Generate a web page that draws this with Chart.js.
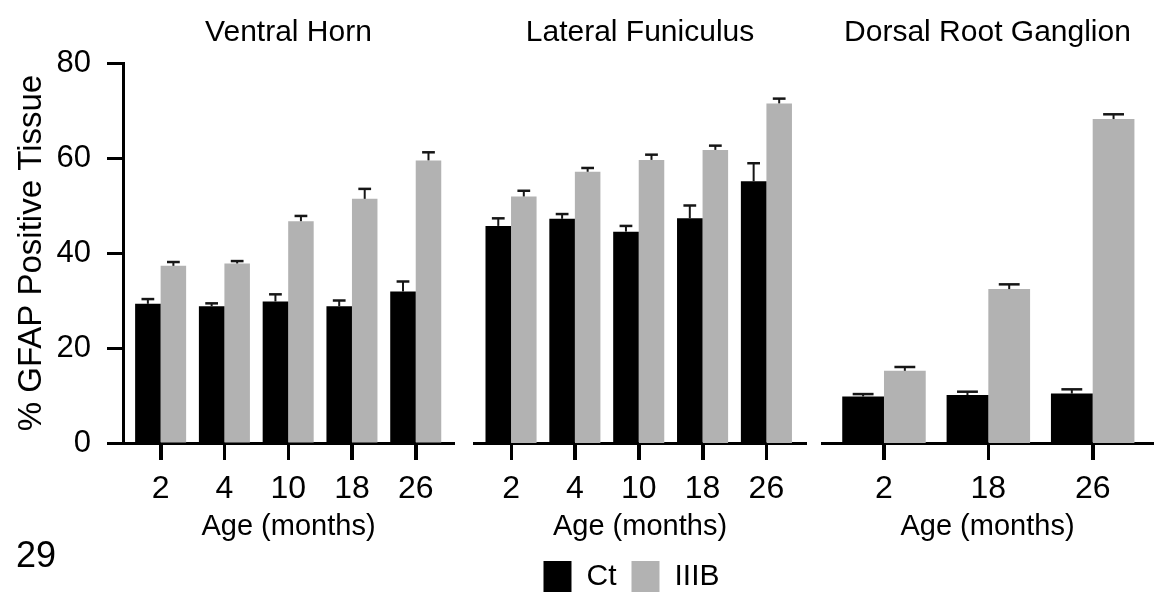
<!DOCTYPE html>
<html>
<head>
<meta charset="utf-8">
<script src="https://cdn.jsdelivr.net/npm/chart.js@4/dist/chart.umd.min.js"></script>
<style>
  html, body { margin: 0; padding: 0; background: #fff; overflow: hidden; }
  #wrap { position: relative; width: 1154px; height: 595px; overflow: hidden; background: #fff; }
  #wrap canvas { position: absolute; top: 0; }
  #fig { position: absolute; left: 16px; top: 537px; font: 36px 'Liberation Sans', Arial, sans-serif; line-height: 36px; color: #000; }
</style>
</head>
<body>
<div id="wrap">
  <canvas id="vh" width="460" height="595" style="left:0px"></canvas>
  <canvas id="lf" width="355" height="602" style="left:457px"></canvas>
  <canvas id="drg" width="339" height="595" style="left:815px"></canvas>
  <div id="fig">29</div>
</div>
<script>
// Age groups (months) per tissue
const vhAges  = ['2', '4', '10', '18', '26'];
const lfAges  = ['2', '4', '10', '18', '26'];
const drgAges = ['2', '18', '26'];

// % GFAP positive tissue, mean and SEM
const vhCt      = [29.3, 28.8, 29.8, 28.8, 31.9];
const vhCtSem   = [1.0, 0.6, 1.5, 1.2, 2.1];
const vhIIIB    = [37.3, 37.8, 46.7, 51.4, 59.5];
const vhIIIBSem = [0.8, 0.5, 1.1, 2.1, 1.7];

const lfCt      = [45.7, 47.2, 44.5, 47.3, 55.1];
const lfCtSem   = [1.6, 1.0, 1.2, 2.7, 3.8];
const lfIIIB    = [51.9, 57.1, 59.6, 61.7, 71.5];
const lfIIIBSem = [1.2, 0.8, 1.1, 0.9, 1.0];

const drgCt      = [9.8, 10.1, 10.4];
const drgCtSem   = [0.5, 0.7, 0.9];
const drgIIIB    = [15.2, 32.4, 68.2];
const drgIIIBSem = [0.8, 1.0, 1.0];

const yTickValues = [0, 20, 40, 60, 80];

const FONT = "'Liberation Sans', Arial, sans-serif";
const BLACK = '#000000';
const GREY = '#b2b2b2';

Chart.defaults.font.family = FONT;
Chart.defaults.color = '#000';

// Upper SEM whiskers on top of each bar
const semWhiskers = {
  id: 'semWhiskers',
  afterDatasetsDraw(chart) {
    const ctx = chart.ctx;
    const yScale = chart.scales.y;
    ctx.save();
    ctx.strokeStyle = '#161616';
    chart.data.datasets.forEach((ds, di) => {
      const meta = chart.getDatasetMeta(di);
      meta.data.forEach((bar, i) => {
        const v = ds.data[i].y;
        const top = yScale.getPixelForValue(v + ds.sem[i]);
        const half = bar.width * 0.25;
        ctx.lineWidth = 2;
        ctx.beginPath();
        ctx.moveTo(bar.x, bar.y);
        ctx.lineTo(bar.x, top);
        ctx.stroke();
        ctx.lineWidth = 2.5;
        ctx.beginPath();
        ctx.moveTo(bar.x - half, top);
        ctx.lineTo(bar.x + half, top);
        ctx.stroke();
      });
    });
    ctx.restore();
  }
};

// Downward tick marks under each age group, hanging from the zero line
const ageTicks = {
  id: 'ageTicks',
  afterDraw(chart) {
    const ctx = chart.ctx;
    const xScale = chart.scales.x;
    const base = chart.scales.y.getPixelForValue(0);
    ctx.save();
    ctx.globalAlpha = 1;
    ctx.globalCompositeOperation = 'source-over';
    ctx.setLineDash([]);
    ctx.strokeStyle = '#000';
    ctx.lineWidth = 3;
    xScale.ticks.forEach(t => {
      const px = Math.round(xScale.getPixelForValue(t.value)) + 0.5;
      ctx.beginPath();
      ctx.moveTo(px, base + 1);
      ctx.lineTo(px, base + 17);
      ctx.stroke();
    });
    ctx.restore();
  }
};

function panel(id, o) {
  const toPoints = arr => arr.map((v, i) => ({ x: i, y: v }));
  return new Chart(document.getElementById(id), {
    type: 'bar',
    data: {
      datasets: [
        { label: 'Ct', data: toPoints(o.ct), sem: o.ctSem, backgroundColor: BLACK, borderWidth: 0 },
        { label: 'IIIB', data: toPoints(o.iiib), sem: o.iiibSem, backgroundColor: GREY, borderWidth: 0 }
      ]
    },
    options: {
      responsive: false,
      animation: false,
      devicePixelRatio: 1,
      layout: { padding: o.pad },
      datasets: { bar: { categoryPercentage: 0.8, barPercentage: 1 } },
      plugins: {
        tooltip: { enabled: false },
        title: {
          display: true, text: o.title, fullSize: false, color: '#000',
          font: { size: 30, weight: 'normal' }, padding: { top: 15, bottom: 12 }
        },
        legend: {
          display: o.legend, position: 'bottom',
          labels: { boxWidth: 28, boxHeight: 31, padding: 15, color: '#000', font: { size: 30 } }
        }
      },
      scales: {
        x: {
          type: 'linear', min: o.xmin, max: o.xmax, offset: false,
          afterBuildTicks: s => { s.ticks = o.ages.map((_, i) => ({ value: i })); },
          afterFit: s => { s.height = o.xHeight; },
          ticks: { callback: v => o.ages[v], font: { size: 32 }, color: '#000', padding: 10, maxRotation: 0, autoSkip: false },
          grid: { offset: false, drawOnChartArea: false, tickLength: 17, tickWidth: 3, tickColor: '#000' },
          border: { display: true, width: 3, color: '#000' },
          title: { display: true, text: 'Age (months)', color: '#000', font: { size: 29 }, padding: { top: 0, bottom: o.xTitlePad } }
        },
        y: {
          min: 0, max: 80,
          afterBuildTicks: s => { s.ticks = yTickValues.map(v => ({ value: v })); },
          afterFit: s => { s.width = o.yWidth; },
          ticks: { display: o.showY, font: { size: 31 }, color: '#000', padding: 16 },
          grid: { display: o.showY, drawOnChartArea: false, tickLength: 16, tickWidth: 3, tickColor: '#000' },
          border: { display: o.showY, width: 3, color: '#000' },
          title: { display: o.showY, text: '% GFAP Positive Tissue', color: '#000', font: { size: 33 }, padding: { top: 12, bottom: 0 } }
        }
      }
    },
    plugins: [semWhiskers, ageTicks]
  });
}

panel('vh', {
  title: 'Ventral Horn', ages: vhAges,
  ct: vhCt, ctSem: vhCtSem, iiib: vhIIIB, iiibSem: vhIIIBSem,
  xmin: -0.59, xmax: 4.6, pad: { left: 0, right: 6, top: 0, bottom: 0 },
  xHeight: 152, xTitlePad: 51, yWidth: 123, showY: true, legend: false
});

panel('lf', {
  title: 'Lateral Funiculus', ages: lfAges,
  ct: lfCt, ctSem: lfCtSem, iiib: lfIIIB, iiibSem: lfIIIBSem,
  xmin: -0.58, xmax: 4.62, pad: { left: 0, right: 6, top: 0, bottom: 0 },
  xHeight: 103, xTitlePad: 2, yWidth: 17, showY: false, legend: true
});

panel('drg', {
  title: 'Dorsal Root Ganglion', ages: drgAges,
  ct: drgCt, ctSem: drgCtSem, iiib: drgIIIB, iiibSem: drgIIIBSem,
  xmin: -0.594, xmax: 2.578, pad: { left: 0, right: 1, top: 0, bottom: 0 },
  xHeight: 152, xTitlePad: 51, yWidth: 7, showY: false, legend: false
});
</script>
</body>
</html>
